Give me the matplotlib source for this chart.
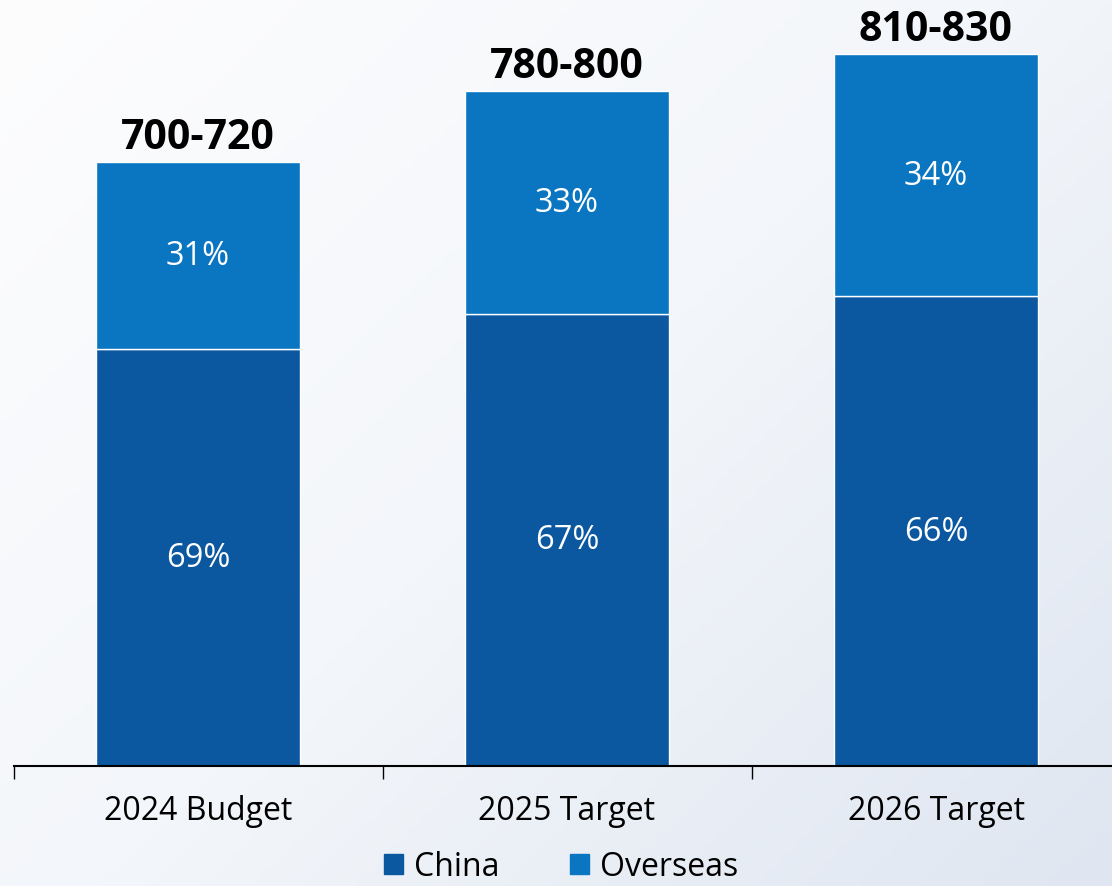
import numpy as np
import matplotlib
matplotlib.use('Agg')
import matplotlib.pyplot as plt
from matplotlib.colors import LinearSegmentedColormap
from matplotlib.patches import Patch

# data
categories = ['2024 Budget', '2025 Target', '2026 Target']
range_labels = ['700-720', '780-800', '810-830']
bar_totals = [604, 675, 712]          # relative bar heights
china_share = [69, 67, 66]
overseas_share = [31, 33, 34]

china_color = '#0b57a0'
overseas_color = '#0a76c1'

plt.rcParams['font.family'] = ['Open Sans', 'DejaVu Sans']

fig = plt.figure(figsize=(11.12, 8.87), dpi=100)

# diagonal gradient background
bg = fig.add_axes([0, 0, 1, 1], zorder=-10)
xx, yy = np.meshgrid(np.linspace(0, 1, 300), np.linspace(0, 1, 300))
grad = (xx * 0.55 + yy * 0.45)
cmap = LinearSegmentedColormap.from_list('bg', ['#fdfdfe', '#f3f6fa', '#dfe6f1'])
bg.imshow(grad, cmap=cmap, aspect='auto', extent=[0, 1, 0, 1], origin='upper')
bg.axis('off')

ax = fig.add_axes([13.5 / 1112, 120 / 887, 1107 / 1112, 767 / 887])
ax.patch.set_alpha(0)

x = np.arange(len(categories))
china_vals = [t * c / 100 for t, c in zip(bar_totals, china_share)]
overseas_vals = [t * o / 100 for t, o in zip(bar_totals, overseas_share)]

width = 0.553
ax.bar(x, china_vals, width, color=china_color, edgecolor='white', linewidth=1, label='China')
ax.bar(x, overseas_vals, width, bottom=china_vals, color=overseas_color,
       edgecolor='white', linewidth=1, label='Overseas')

for i in range(len(categories)):
    ax.text(x[i], china_vals[i] / 2, f'{china_share[i]}%', ha='center', va='center',
            color='white', fontsize=23.5)
    ax.text(x[i], china_vals[i] + overseas_vals[i] / 2, f'{overseas_share[i]}%',
            ha='center', va='center', color='white', fontsize=23.5)
    ax.annotate(range_labels[i], (x[i], bar_totals[i]), xytext=(0, 3),
                textcoords='offset points', ha='center', va='bottom',
                fontsize=29.5, fontweight='bold', color='black')

ax.set_xlim(-0.5, 2.5)
ax.set_ylim(0, 767)
for s in ['top', 'right', 'left']:
    ax.spines[s].set_visible(False)
ax.spines['bottom'].set_linewidth(1.5)
ax.set_yticks([])
ax.set_xticks(x)
ax.set_xticklabels(categories, fontsize=23)
ax.tick_params(axis='x', which='major', length=0, pad=20)
ax.set_xticks([-0.5, 0.5, 1.5, 2.5], minor=True)
ax.tick_params(axis='x', which='minor', length=9, width=1)

handles = [Patch(color=china_color), Patch(color=overseas_color)]
fig.legend(handles, ['China', 'Overseas'], loc='center', bbox_to_anchor=(561 / 1112, 19 / 887),
           ncol=2, frameon=False, fontsize=23, handlelength=0.6, handleheight=0.6,
           handletextpad=0.35, columnspacing=2.2, borderpad=0)

fig.savefig('out.png', dpi=100)
